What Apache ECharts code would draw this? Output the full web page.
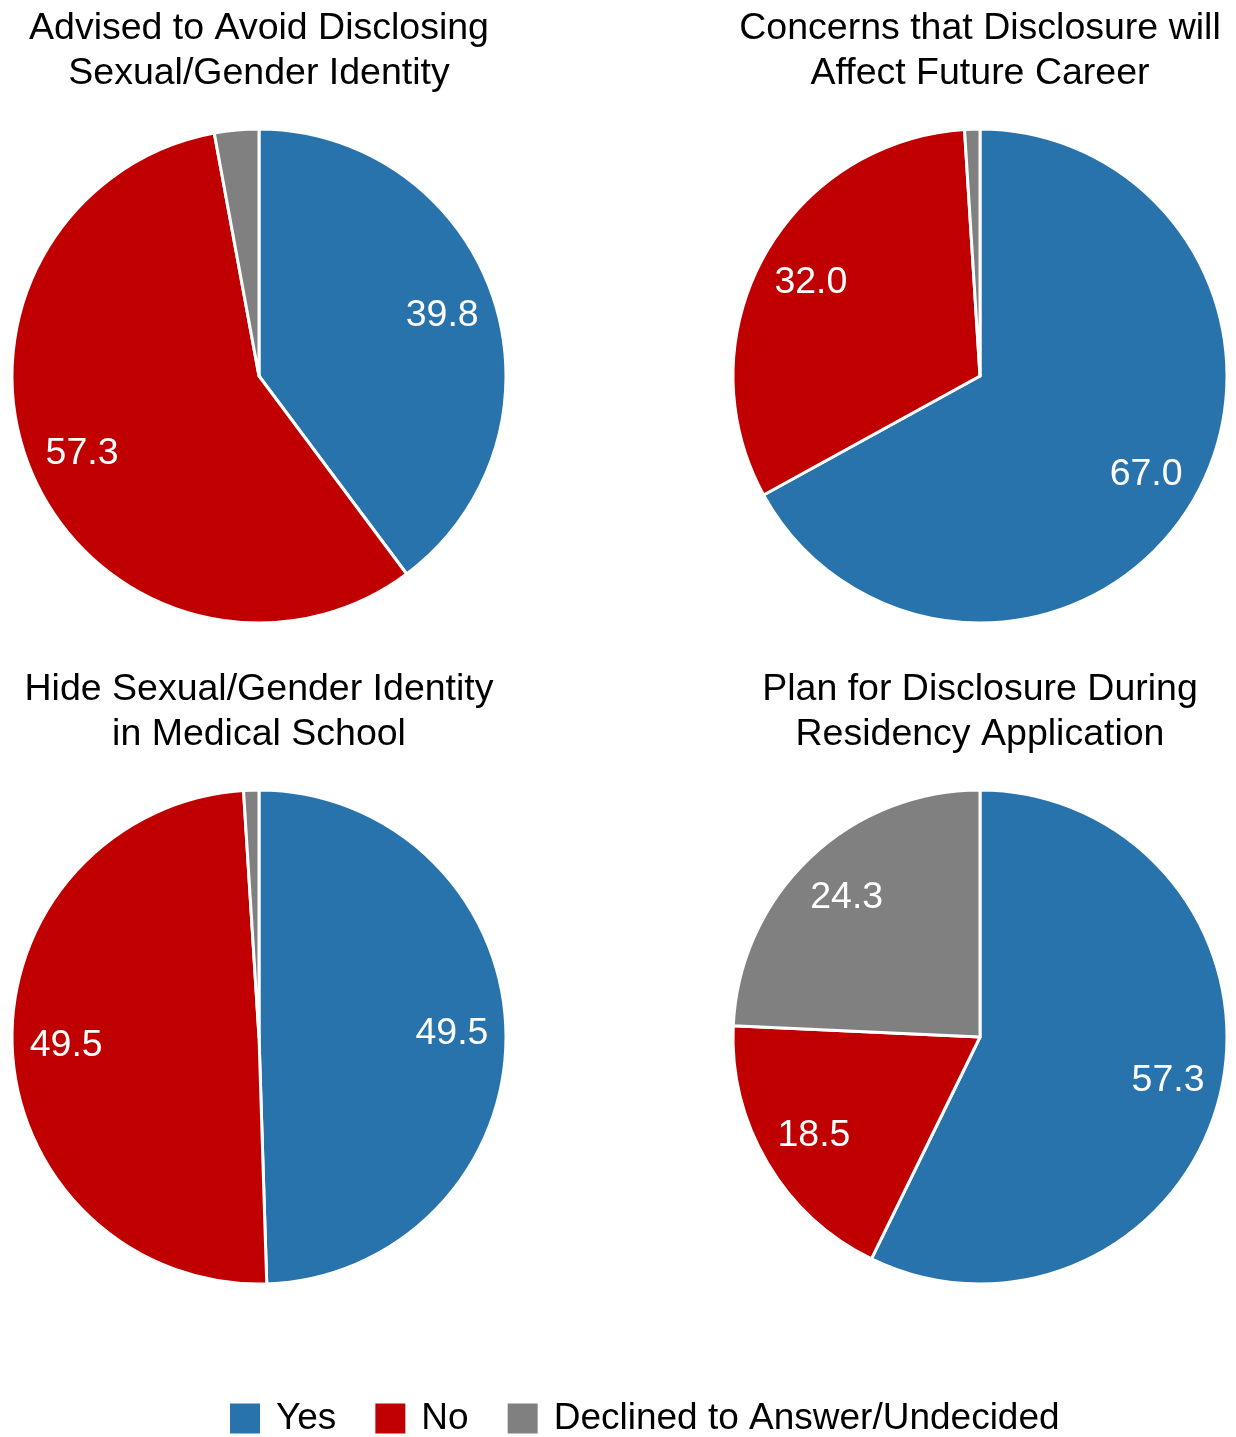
<!DOCTYPE html>
<html><head><meta charset="utf-8">
<script src="https://cdn.jsdelivr.net/npm/echarts@6/dist/echarts.min.js"></script>
<style>html,body{margin:0;padding:0;background:#fff}#c{width:1236px;height:1437px}</style>
</head><body><div id="c"></div>
<script>
const categories = ['Yes', 'No', 'Declined to Answer/Undecided'];
const titles = [
  'Advised to Avoid Disclosing\nSexual/Gender Identity',
  'Concerns that Disclosure will\nAffect Future Career',
  'Hide Sexual/Gender Identity\nin Medical School',
  'Plan for Disclosure During\nResidency Application'
];
const advisedValues = [39.8, 57.3, 2.9];
const concernsValues = [67.0, 32.0, 1.0];
const hideValues = [49.5, 49.5, 1.0];
const planValues = [57.3, 18.5, 24.3];
const allValues = [advisedValues, concernsValues, hideValues, planValues];

const colors = ['#2873AB', '#C00000', '#808080'];
const centers = [[259, 376], [980, 376], [259, 1037], [980, 1037]];
const titlePos = [[259, 6], [980, 6], [259, 667], [980, 667]];
const R = 247;
const FONT = 'Liberation Sans, Arial, Helvetica, sans-serif';

const chart = echarts.init(document.getElementById('c'), null, {renderer: 'canvas'});
const series = [];
allValues.forEach((vals, i) => {
  series.push({
    type: 'pie', center: centers[i], radius: [0, R], startAngle: 90, clockwise: true,
    silent: true, animation: false,
    itemStyle: {borderColor: '#fff', borderWidth: 3},
    label: {show: false}, labelLine: {show: false},
    data: categories.map((c, k) => ({name: c, value: vals[k], itemStyle: {color: colors[k]}}))
  });
  series.push({
    type: 'pie', center: centers[i], radius: [133, R], startAngle: 90, clockwise: true,
    silent: true, animation: false, legendHoverLink: false,
    itemStyle: {color: 'rgba(0,0,0,0)', borderWidth: 0},
    label: {
      show: true, position: 'inside', color: '#fff', fontSize: 37.5, fontFamily: FONT,
      formatter: p => p.value >= 5 ? p.value.toFixed(1) : ''
    },
    labelLine: {show: false},
    data: categories.map((c, k) => ({name: c, value: vals[k]}))
  });
});

chart.setOption({
  backgroundColor: '#fff',
  animation: false,
  title: titles.map((t, i) => ({
    text: t, left: titlePos[i][0], top: titlePos[i][1], textAlign: 'center', padding: 0,
    textStyle: {fontSize: 37.5, fontWeight: 'normal', color: '#000', fontFamily: FONT, lineHeight: 45}
  })),
  legend: {
    data: categories, left: 223, top: 1395, icon: 'rect', itemWidth: 32, itemHeight: 32, itemGap: 37,
    selectedMode: false,
    textStyle: {fontSize: 37, color: '#000', fontFamily: FONT, padding: [0, 0, 0, 10]}
  },
  series: series
});
</script></body></html>
